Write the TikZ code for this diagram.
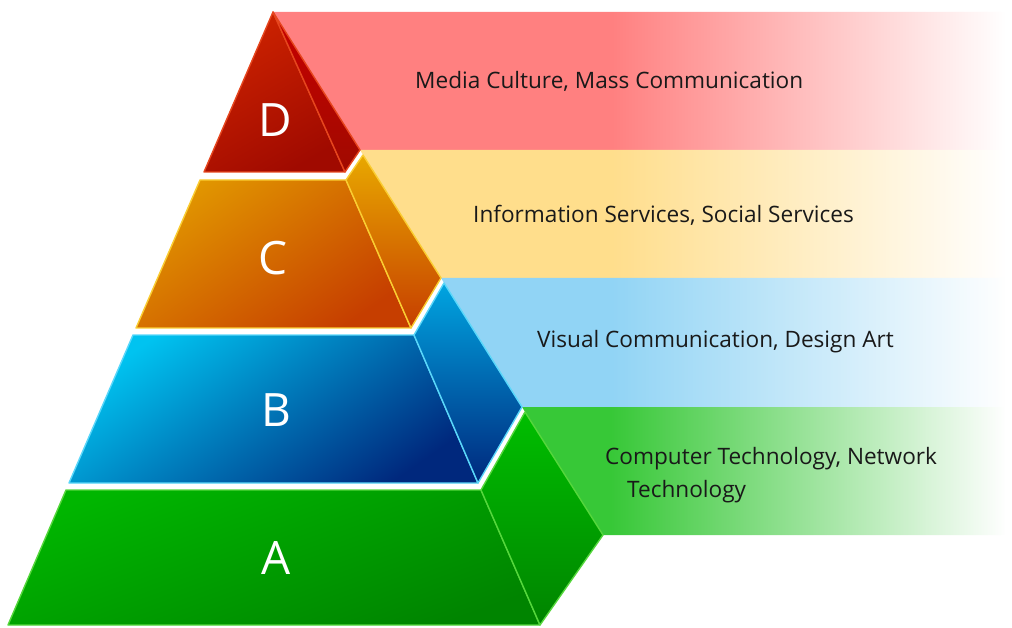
\documentclass[tikz,border=0pt]{standalone}
\usepackage{fontspec}
\setmainfont{Open Sans}
\usetikzlibrary{fadings}

\definecolor{bandD}{RGB}{255,128,128}
\definecolor{bandC}{RGB}{255,222,140}
\definecolor{bandB}{RGB}{145,212,245}
\definecolor{bandA}{RGB}{55,200,55}
\definecolor{labelgray}{RGB}{25,25,25}
% layer colours: edge, top, bottom
\definecolor{edgeD}{RGB}{230,70,30}
\definecolor{topD}{RGB}{205,35,0}
\definecolor{botD}{RGB}{160,10,0}
\definecolor{sideD}{RGB}{200,0,0}
\definecolor{edgeC}{RGB}{250,205,50}
\definecolor{topC}{RGB}{225,150,0}
\definecolor{botC}{RGB}{198,62,0}
\definecolor{sideC}{RGB}{232,168,0}
\definecolor{edgeB}{RGB}{90,215,250}
\definecolor{topB}{RGB}{0,195,240}
\definecolor{botB}{RGB}{0,40,125}
\definecolor{sideB}{RGB}{0,165,225}
\definecolor{edgeA}{RGB}{85,215,60}
\definecolor{topA}{RGB}{0,182,0}
\definecolor{botA}{RGB}{0,132,0}
\definecolor{sideA}{RGB}{0,190,0}

% white wash towards the right end of the bands
\pgfdeclarehorizontalshading{bandwash}{100bp}{color(0bp)=(pgftransparent!100); color(25bp)=(pgftransparent!100);
  color(75bp)=(pgftransparent!0); color(100bp)=(pgftransparent!0)}
\pgfdeclarefading{band fade}{\pgfuseshading{bandwash}}

\begin{document}
\begin{tikzpicture}[x=1pt,y=-1pt]

\tikzset{
  band/.style={fill=#1},
  face/.style={line width=1.4pt, line join=round, draw=edge#1, top color=top#1, bottom color=bot#1},
  sideface/.style={line width=1.4pt, line join=round, draw=edge#1, top color=side#1, bottom color=bot#1},
  letter/.style={font=\fontsize{46}{50}\selectfont, text=white, inner sep=0pt},
  label/.style={font=\fontsize{22.6}{33}\selectfont, text=labelgray, anchor=west, inner sep=0pt, align=left}
}

\useasboundingbox (0,0) rectangle (1012,628);

% pyramid edges
\coordinate (apex) at (273,12);
\coordinate (backD) at (360,150);
\coordinate (backC) at (441,278);
\coordinate (backB) at (522,407);
\coordinate (backA) at (603,535);

% bands behind
\fill[band=bandD] (apex) -- (1012,12) -- (1012,150) -- (backD) -- cycle;
\fill[band=bandC] (backD) -- (1012,150) -- (1012,278) -- (backC) -- cycle;
\fill[band=bandB] (backC) -- (1012,278) -- (1012,407) -- (backB) -- cycle;
\fill[band=bandA] (backB) -- (1012,407) -- (1012,535) -- (backA) -- cycle;
\fill[white, path fading=band fade, fit fading=true] (610,8) rectangle (1005,540);
\fill[white] (1005,8) rectangle (1012,540);

% layer D
\shade[face=D, shading angle=30] (apex) -- (204,172) -- (345,172) -- cycle;
\shade[sideface=D] (apex) -- (backD) -- (345,172) -- cycle;

% layer C
\shade[face=C, shading angle=35] (200,180) -- (346,180) -- (411,328) -- (136,328) -- cycle;
\shade[sideface=C] (346,180) -- (363,155) -- (backC) -- (411,328) -- cycle;

% layer B
\shade[face=B, shading angle=35] (133,335) -- (414,335) -- (478,483) -- (69,483) -- cycle;
\shade[sideface=B] (414,335) -- (444,283) -- (backB) -- (478,483) -- cycle;

% layer A
\shade[face=A, shading angle=20] (66,490) -- (481,490) -- (540,625) -- (8,625) -- cycle;
\shade[sideface=A] (481,490) -- (525,412) -- (backA) -- (540,625) -- cycle;

\node[letter] (letD) at (275,120) {D};
\node[letter] (letC) at (273,258) {C};
\node[letter] (letB) at (276,410) {B};
\node[letter] (letA) at (276,558) {A};

\node[label] (labD) at (415,81) {Media Culture, Mass Communication};
\node[label] (labC) at (473,215) {Information Services, Social Services};
\node[label] (labB) at (537,342) {Visual Communication, Design Art};
\node[label] (labA) at (605,475) {Computer Technology, Network\\\hspace*{22pt}Technology};

\end{tikzpicture}
\end{document}
